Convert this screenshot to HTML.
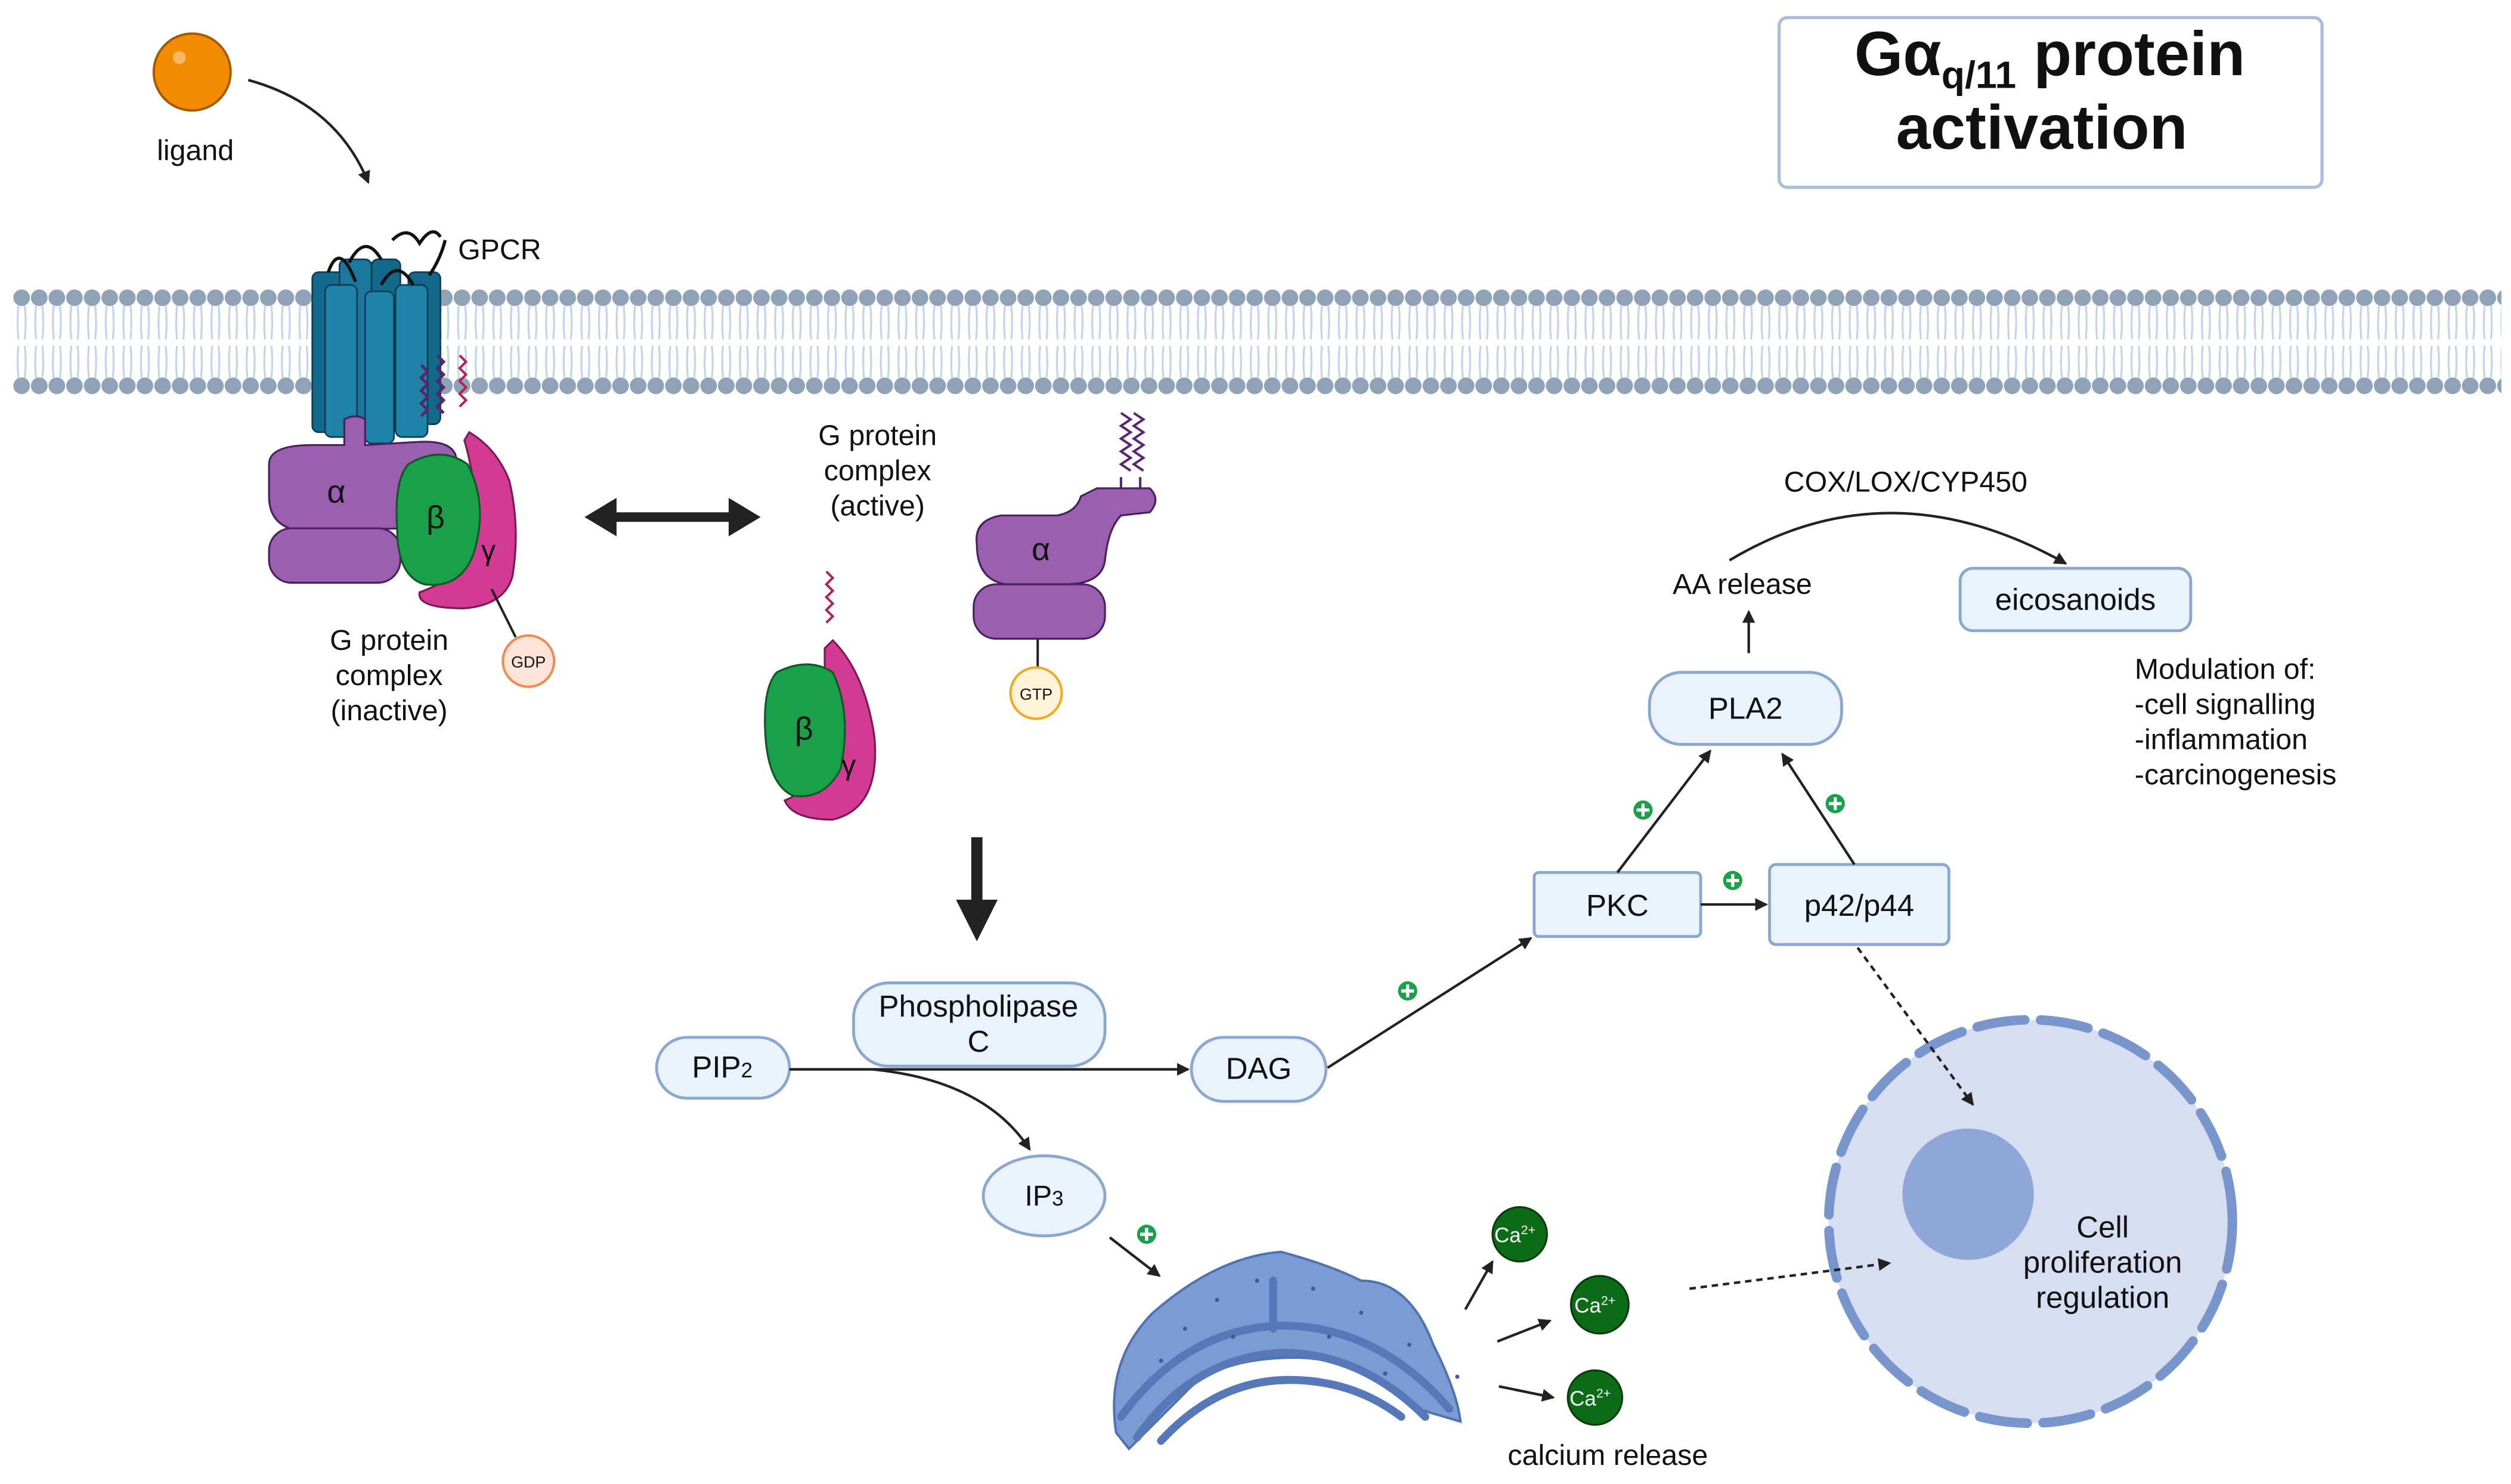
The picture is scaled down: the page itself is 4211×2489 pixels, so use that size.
<!DOCTYPE html>
<html><head><meta charset="utf-8"><style>
html,body{margin:0;padding:0;background:#fff}
svg{display:block}
text{font-family:"Liberation Sans",sans-serif;fill:#111}
</style></head><body>
<svg width="4211" height="2489" viewBox="0 0 1568 927" preserveAspectRatio="none" xmlns="http://www.w3.org/2000/svg">
<defs>
<pattern id="mem" x="8" y="0" width="11" height="927" patternUnits="userSpaceOnUse">
<path d="M3.5 191 Q2.5 201 3.5 212 M7.5 191 Q8.5 201 7.5 212 M3.5 216 Q2.5 226 3.5 236 M7.5 216 Q8.5 226 7.5 236" stroke="#c3d3ea" stroke-width="1.2" fill="none"/>
<circle cx="5.5" cy="186" r="5.2" fill="#8fa2b7"/>
<circle cx="5.5" cy="241" r="5.2" fill="#8fa2b7"/>
</pattern>
<marker id="ah" markerWidth="8" markerHeight="8" refX="7" refY="4" orient="auto" markerUnits="userSpaceOnUse"><path d="M0 0 L8 4 L0 8 z" fill="#222"/></marker>
</defs>
<rect width="1568" height="927" fill="#fff"/>
<rect x="8" y="178" width="1554" height="70" fill="url(#mem)"/>

<!-- ligand -->
<circle cx="120" cy="45" r="24" fill="#f28c00" stroke="#a65a00" stroke-width="1.5"/>
<circle cx="112" cy="36" r="4" fill="#f8b860"/>
<text x="122" y="100" font-size="18" text-anchor="middle">ligand</text>
<path d="M155 50 Q210 65 230 114" stroke="#222" stroke-width="1.6" fill="none" marker-end="url(#ah)"/>

<!-- title -->
<rect x="1111" y="11" width="339" height="106" rx="5" fill="#fff" stroke="#a9bedc" stroke-width="2"/>
<text x="1280" y="47" font-size="39" font-weight="bold" text-anchor="middle">Gα<tspan font-size="24" dy="8">q/11</tspan><tspan dy="-8"> protein</tspan></text>
<text x="1275" y="93" font-size="39" font-weight="bold" text-anchor="middle">activation</text>

<!-- GPCR -->
<g stroke="#0b3d55" stroke-width="1">
<rect x="195" y="170" width="20" height="100" rx="4" fill="#13698a"/>
<rect x="212" y="162" width="20" height="110" rx="4" fill="#1a789c"/>
<rect x="232" y="162" width="18" height="105" rx="4" fill="#13698a"/>
<rect x="255" y="170" width="20" height="95" rx="4" fill="#13698a"/>
<rect x="203" y="178" width="20" height="95" rx="4" fill="#1f82a8"/>
<rect x="228" y="182" width="18" height="95" rx="4" fill="#1f82a8"/>
<rect x="247" y="178" width="20" height="95" rx="4" fill="#1f82a8"/>
</g>
<path d="M205 170 Q212 150 222 176 M218 164 Q228 145 238 162 M238 178 Q248 160 258 178 M278 150 Q275 162 268 172 M245 150 Q255 140 262 152 Q270 140 275 148" stroke="#111" stroke-width="2" fill="none"/>
<text x="286" y="162" font-size="18">GPCR</text>
<path d="M263 228 l4 4 -4 4 4 4 -4 4 4 4 -4 4 4 4 -4 4 M273 222 l4 4 -4 4 4 4 -4 4 4 4 -4 4 4 4 -4 4 4 4" stroke="#5a2475" stroke-width="1.8" fill="none"/>
<path d="M287 222 l4 4 -4 4 4 4 -4 4 4 4 -4 4 4 4 -4 4" stroke="#b0245a" stroke-width="1.5" fill="none"/>

<!-- G protein inactive -->
<path d="M168 290 Q168 278 195 278 L215 278 L215 262 Q222 258 228 262 L228 278 L262 276 Q285 275 285 288 Q285 300 262 300 L252 302 L252 330 L190 332 Q168 330 168 310 Z" fill="#9b5fb0" stroke="#4b2060" stroke-width="1.2"/>
<rect x="168" y="330" width="82" height="34" rx="14" fill="#9b5fb0" stroke="#4b2060" stroke-width="1.2"/>
<text x="210" y="314" font-size="20" text-anchor="middle" fill="#3a1a48">α</text>
<path d="M293 270 Q310 280 318 300 Q325 330 320 360 Q315 378 290 380 Q260 380 262 370 Q290 360 295 340 Q300 310 290 275 Z" fill="#d33a94" stroke="#7a1a55" stroke-width="1.2"/>
<path d="M255 290 Q275 278 292 290 Q305 315 296 345 Q288 368 265 365 Q248 360 248 330 Q246 300 255 290 Z" fill="#1aa04a" stroke="#0b5a25" stroke-width="1.2"/>
<text x="272" y="330" font-size="20" text-anchor="middle" fill="#0b3a18">β</text>
<text x="305" y="350" font-size="18" text-anchor="middle" fill="#5a1040">γ</text>
<line x1="307" y1="368" x2="322" y2="398" stroke="#222" stroke-width="1.5"/>
<circle cx="330" cy="413" r="16" fill="#fde3d8" stroke="#f08a50" stroke-width="1.5"/>
<text x="330" y="417" font-size="10" text-anchor="middle">GDP</text>
<text x="243" y="406" font-size="18" text-anchor="middle">G protein</text>
<text x="243" y="428" font-size="18" text-anchor="middle">complex</text>
<text x="243" y="450" font-size="18" text-anchor="middle">(inactive)</text>

<!-- double arrow -->
<line x1="380" y1="323" x2="460" y2="323" stroke="#222" stroke-width="6"/>
<path d="M365 323 L385 311 L385 335 Z M475 323 L455 311 L455 335 Z" fill="#222"/>
<text x="548" y="278" font-size="18" text-anchor="middle">G protein</text>
<text x="548" y="300" font-size="18" text-anchor="middle">complex</text>
<text x="548" y="322" font-size="18" text-anchor="middle">(active)</text>

<!-- active alpha -->
<path d="M700 258 l6 4 -6 4 6 4 -6 4 6 4 -6 4 6 4 -6 4 6 4 M708 258 l6 4 -6 4 6 4 -6 4 6 4 -6 4 6 4 -6 4 6 4" stroke="#5a2475" stroke-width="1.5" fill="none"/>
<path d="M700 298 L700 306 M712 298 L712 306" stroke="#5a2475" stroke-width="1.5"/>
<path d="M610 340 Q608 325 625 322 L660 322 Q672 320 675 310 L685 305 L718 305 Q725 312 718 320 L700 322 Q692 330 690 350 Q688 365 665 365 L628 365 Q610 362 610 340 Z" fill="#9b5fb0" stroke="#4b2060" stroke-width="1.2"/>
<rect x="608" y="365" width="82" height="34" rx="14" fill="#9b5fb0" stroke="#4b2060" stroke-width="1.2"/>
<text x="650" y="350" font-size="20" text-anchor="middle" fill="#3a1a48">α</text>
<line x1="648" y1="399" x2="648" y2="418" stroke="#222" stroke-width="1.5"/>
<circle cx="647" cy="433" r="16" fill="#fff3d8" stroke="#f0a820" stroke-width="1.5"/>
<text x="647" y="437" font-size="10" text-anchor="middle">GTP</text>

<!-- beta gamma -->
<path d="M516 357 l4 4 -4 4 4 4 -4 4 4 4 -4 4 4 4 -4 4" stroke="#b0245a" stroke-width="1.5" fill="none"/>
<path d="M520 400 Q540 420 546 460 Q550 505 520 512 Q495 512 490 500 Q515 490 515 460 Q515 430 515 405 Z" fill="#d33a94" stroke="#7a1a55" stroke-width="1.2"/>
<path d="M485 420 Q505 410 520 420 Q532 445 525 480 Q515 500 495 497 Q480 490 478 460 Q476 430 485 420 Z" fill="#1aa04a" stroke="#0b5a25" stroke-width="1.2"/>
<text x="502" y="462" font-size="20" text-anchor="middle" fill="#0b3a18">β</text>
<text x="530" y="484" font-size="18" text-anchor="middle" fill="#5a1040">γ</text>

<!-- big down arrow -->
<line x1="610" y1="523" x2="610" y2="565" stroke="#222" stroke-width="7"/>
<path d="M597 562 L623 562 L610 588 Z" fill="#222"/>

<!-- cell -->
<circle cx="1268" cy="763" r="126" fill="#d8def2"/>
<circle cx="1268" cy="763" r="126" fill="none" stroke="#7896cc" stroke-width="6" stroke-dasharray="30 10" stroke-linecap="round"/>
<circle cx="1229" cy="746" r="41" fill="#8ea6d8"/>
<text x="1313" y="773" font-size="19" text-anchor="middle">Cell</text>
<text x="1313" y="795" font-size="19" text-anchor="middle">proliferation</text>
<text x="1313" y="817" font-size="19" text-anchor="middle">regulation</text>

<!-- PLC pathway -->
<g fill="#eaf2fc" stroke="#8aa7cf" stroke-width="1.8">
<rect x="410" y="648" width="83" height="38" rx="19"/>
<rect x="533" y="614" width="157" height="52" rx="22"/>
<rect x="744" y="648" width="84" height="40" rx="20"/>
<ellipse cx="652" cy="747" rx="38" ry="25"/>
<rect x="958" y="545" width="104" height="40" rx="3"/>
<rect x="1105" y="540" width="112" height="50" rx="4"/>
<rect x="1030" y="420" width="120" height="45" rx="20"/>
<rect x="1224" y="355" width="144" height="39" rx="8"/>
</g>
<text x="451" y="673" font-size="19" text-anchor="middle">PIP<tspan font-size="13">2</tspan></text>
<text x="611" y="635" font-size="19" text-anchor="middle">Phospholipase</text>
<text x="611" y="657" font-size="19" text-anchor="middle">C</text>
<text x="786" y="674" font-size="19" text-anchor="middle">DAG</text>
<text x="652" y="753" font-size="18" text-anchor="middle">IP<tspan font-size="13">3</tspan></text>
<text x="1010" y="572" font-size="19" text-anchor="middle">PKC</text>
<text x="1161" y="572" font-size="19" text-anchor="middle">p42/p44</text>
<text x="1090" y="449" font-size="19" text-anchor="middle">PLA2</text>
<text x="1296" y="381" font-size="19" text-anchor="middle">eicosanoids</text>

<g stroke="#222" stroke-width="1.6" fill="none" marker-end="url(#ah)">
<line x1="493" y1="668" x2="742" y2="668"/>
<path d="M545 668 Q615 675 643 718"/>
<line x1="829" y1="667" x2="956" y2="586"/>
<line x1="1062" y1="565" x2="1103" y2="565"/>
<line x1="1010" y1="545" x2="1068" y2="469"/>
<line x1="1158" y1="540" x2="1113" y2="471"/>
<line x1="1092" y1="408" x2="1092" y2="382"/>
<path d="M1080 350 Q1180 290 1290 352"/>
<line x1="693" y1="773" x2="724" y2="797"/>
<line x1="915" y1="818" x2="932" y2="788"/>
<line x1="935" y1="838" x2="968" y2="825"/>
<line x1="936" y1="866" x2="970" y2="873"/>
<line x1="1160" y1="592" x2="1232" y2="690" stroke-dasharray="4 3"/>
<line x1="1055" y1="805" x2="1180" y2="789" stroke-dasharray="4 3"/>
</g>

<!-- plus signs -->
<g>
<circle cx="879" cy="619" r="6" fill="#1aa04a"/><circle cx="1082" cy="550" r="6" fill="#1aa04a"/>
<circle cx="1026" cy="506" r="6" fill="#1aa04a"/><circle cx="1146" cy="502" r="6" fill="#1aa04a"/>
<circle cx="716" cy="771" r="6" fill="#1aa04a"/>
</g>
<g stroke="#fff" stroke-width="2">
<path d="M875 619h8M879 615v8 M1078 550h8M1082 546v8 M1022 506h8M1026 502v8 M1142 502h8M1146 498v8 M712 771h8M716 767v8"/>
</g>

<text x="1088" y="371" font-size="18" text-anchor="middle">AA release</text>
<text x="1190" y="307" font-size="18" text-anchor="middle">COX/LOX/CYP450</text>
<text x="1333" y="424" font-size="18">Modulation of:</text>
<text x="1333" y="446" font-size="18">-cell signalling</text>
<text x="1333" y="468" font-size="18">-inflammation</text>
<text x="1333" y="490" font-size="18">-carcinogenesis</text>

<!-- ER -->
<path d="M697 895 Q690 850 720 820 Q760 785 800 782 Q830 790 850 800 Q880 800 895 840 Q910 870 912 888 L885 880 Q860 850 810 848 Q760 848 740 870 Q720 890 705 905 Z" fill="#7c9bd4" stroke="#4f73b2" stroke-width="1.5"/>
<g stroke="#5677b8" stroke-width="5" fill="none" stroke-linecap="round">
<path d="M700 885 Q740 830 800 828 Q860 828 905 880"/>
<path d="M710 898 Q745 848 800 845 Q850 845 890 885"/>
<path d="M725 900 Q760 862 805 862 Q845 862 875 885"/>
<path d="M795 800 L795 830"/>
</g>
<g fill="#3a5c9a">
<circle cx="740" cy="830" r="1.3"/><circle cx="760" cy="812" r="1.3"/><circle cx="785" cy="800" r="1.3"/><circle cx="820" cy="805" r="1.3"/><circle cx="850" cy="820" r="1.3"/><circle cx="880" cy="840" r="1.3"/><circle cx="725" cy="850" r="1.3"/><circle cx="770" cy="835" r="1.3"/><circle cx="830" cy="835" r="1.3"/><circle cx="865" cy="858" r="1.3"/><circle cx="910" cy="860" r="1.3"/>
</g>

<!-- Ca2+ -->
<g fill="#0b6b16" stroke="#063d0b" stroke-width="1.2">
<circle cx="949" cy="771" r="17"/><circle cx="999" cy="815" r="18"/><circle cx="996" cy="873" r="17"/>
</g>
<g font-size="13" text-anchor="middle">
<text x="946" y="776" style="fill:#fff">Ca<tspan font-size="8" dy="-5">2+</tspan></text>
<text x="996" y="820" style="fill:#fff">Ca<tspan font-size="8" dy="-5">2+</tspan></text>
<text x="993" y="878" style="fill:#fff">Ca<tspan font-size="8" dy="-5">2+</tspan></text>
</g>
<text x="1004" y="915" font-size="18" text-anchor="middle">calcium release</text>
</svg>
</body></html>
